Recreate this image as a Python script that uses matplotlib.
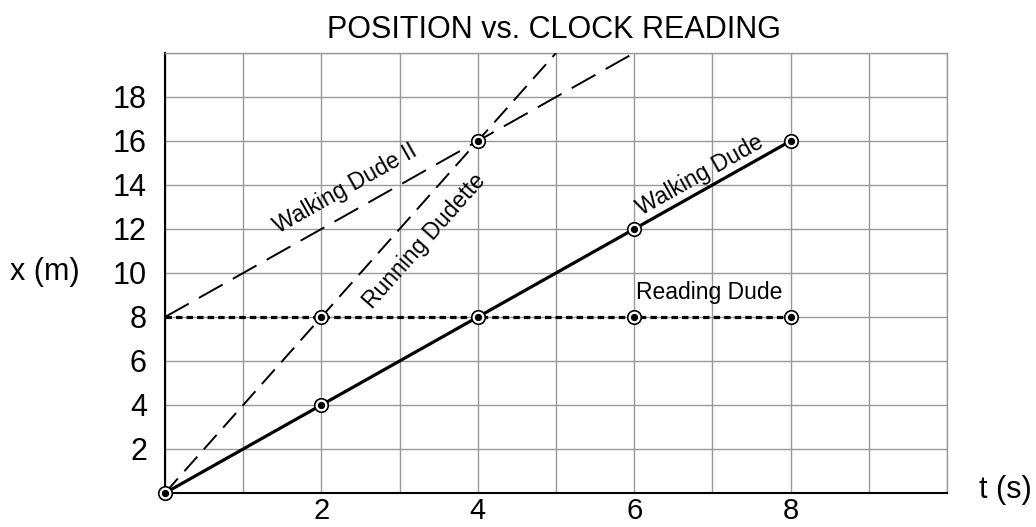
import numpy as np
import matplotlib
matplotlib.use("Agg")
import matplotlib.pyplot as plt

# ---- data ----
walk_t = [0, 2, 4, 6, 8]
walk_x = [0, 4, 8, 12, 16]
read_t = [0, 2, 4, 6, 8]
read_x = [8, 8, 8, 8, 8]
run_t = [0, 2, 4, 5]
run_x = [0, 8, 16, 20]
walk2_t = [0, 4, 6]
walk2_x = [8, 16, 20]
mark_t = [0, 2, 4, 6, 8, 2, 6, 8, 4]
mark_x = [0, 4, 8, 12, 16, 8, 8, 8, 16]
xticks = [2, 4, 6, 8]
yticks = [2, 4, 6, 8, 10, 12, 14, 16, 18]

plt.rcParams['font.family'] = ['Liberation Sans', 'DejaVu Sans']
narrow = ['Liberation Sans Narrow', 'Liberation Sans', 'DejaVu Sans']

fig = plt.figure(figsize=(10.36, 5.27), dpi=100)
ax = fig.add_axes([165/1036, 34/527, (947-165)/1036, (493-53)/527])
ax.set_xlim(0, 10)
ax.set_ylim(0, 20)

ax.set_xticks(np.arange(0, 11, 1), minor=True)
ax.set_yticks(np.arange(0, 21, 2), minor=True)
ax.set_xticks(xticks)
ax.set_yticks(yticks)
ax.grid(which='both', color='#999999', lw=1.0)
ax.set_axisbelow(True)
ax.set_xticklabels([str(v) for v in xticks])
ax.set_yticklabels([str(v) for v in yticks])
ax.tick_params(which='both', length=0, labelsize=22)
ax.tick_params(axis='x', pad=3, labelsize=21)
ax.tick_params(axis='y', pad=13)
for s in ['top', 'right']:
    ax.spines[s].set_color('#999999')
    ax.spines[s].set_linewidth(1.0)
for s in ['left', 'bottom']:
    ax.spines[s].set_color('black')
    ax.spines[s].set_linewidth(1.5)

ax.plot(walk_t, walk_x, color='black', lw=2.3, solid_capstyle='round', zorder=3)
ax.plot(read_t, read_x, color='black', lw=2.3, linestyle=(0, (2, 1.3)),
        dash_capstyle='butt', zorder=3)
ax.plot(run_t, run_x, color='black', lw=1.4, linestyle=(0, (10, 5)), zorder=3)
ax.plot(walk2_t, walk2_x, color='black', lw=1.4, linestyle=(0, (14, 6)), zorder=3)

ax.scatter(mark_t, mark_x, s=95, facecolors='white', edgecolors='black',
           linewidths=1.2, zorder=4, clip_on=False)
ax.scatter(mark_t, mark_x, s=18, color='black', zorder=5, clip_on=False)

fig.canvas.draw()

def angle(t0, x0, t1, x1):
    p0 = ax.transData.transform((t0, x0))
    p1 = ax.transData.transform((t1, x1))
    return np.degrees(np.arctan2(p1[1]-p0[1], p1[0]-p0[0]))

ax.text(2.3, 13.85, 'Walking Dude II', rotation=angle(walk2_t[0], walk2_x[0], walk2_t[-1], walk2_x[-1]),
        rotation_mode='anchor', ha='center', va='center', fontsize=16.5, family=narrow)
ax.text(3.32, 11.45, 'Running Dudette', rotation=angle(run_t[0], run_x[0], run_t[-1], run_x[-1]),
        rotation_mode='anchor', ha='center', va='center', fontsize=16.5, family=narrow)
ax.text(6.84, 14.45, 'Walking Dude', rotation=angle(walk_t[0], walk_x[0], walk_t[-1], walk_x[-1]),
        rotation_mode='anchor', ha='center', va='center', fontsize=16.5, family=narrow)
ax.text(6.96, 9.1, 'Reading Dude', ha='center', va='center', fontsize=16.5, family=narrow)

fig.text(554/1036, 1 - 30/527, 'POSITION vs. CLOCK READING', ha='center', va='center', fontsize=22)
fig.text(45/1036, 1 - 272/527, 'x (m)', ha='center', va='center', fontsize=22)
fig.text(1005/1036, 1 - 490/527, 't (s)', ha='center', va='center', fontsize=22)

fig.savefig('out.png', dpi=100)
